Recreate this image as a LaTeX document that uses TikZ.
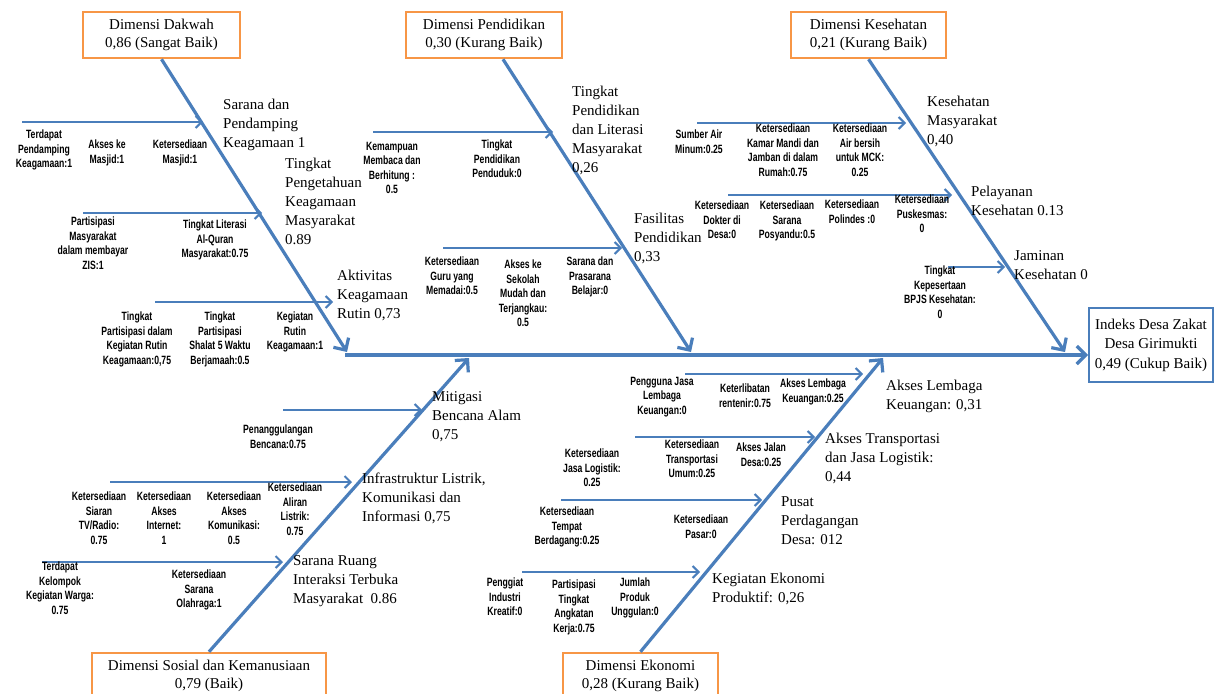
\documentclass[tikz,border=0pt]{standalone}
\usepackage{fontspec}
\setmainfont{Liberation Serif}
\newfontfamily\subfont{Liberation Sans}[FakeStretch=0.72]
\usetikzlibrary{arrows.meta, positioning, calc}
\definecolor{boneblue}{RGB}{74,126,187}
\definecolor{boxorange}{RGB}{247,150,70}

\begin{document}
\begin{tikzpicture}[x=1pt, y=-1pt,
  bone/.style={draw=boneblue, line width=3.2pt, -{Straight Barb[length=9pt, width=18pt]}},
  twig/.style={draw=boneblue, line width=2pt, -{Straight Barb[length=6pt, width=12pt]}},
  dimbox/.style={draw=boxorange, line width=2.5pt, fill=white, align=center, inner sep=0pt,
    minimum height=46pt, font=\fontsize{15}{18}\selectfont},
  lbl/.style={anchor=north west, inner sep=0pt, align=left, font=\fontsize{15}{19}\selectfont},
  sub/.style={anchor=north, inner sep=0pt, align=center, font=\subfont\bfseries\fontsize{12}{14.5}\selectfont}]
\useasboundingbox (0,0) rectangle (1217,693);
\clip (0,0) rectangle (1217,693);

% Dimension boxes
\node[dimbox, minimum width=157pt] (dakwah) at (161.5,35) {Dimensi Dakwah\\0,86 (Sangat Baik)};
\node[dimbox, minimum width=156pt] (pendidikan) at (484,35) {Dimensi Pendidikan\\0,30 (Kurang Baik)};
\node[dimbox, minimum width=155pt] (kesehatan) at (868.5,35) {Dimensi Kesehatan\\0,21 (Kurang Baik)};
\node[dimbox, minimum width=234pt] (sosial) at (209,676) {Dimensi Sosial dan Kemanusiaan\\0,79 (Baik)};
\node[dimbox, minimum width=155pt] (ekonomi) at (640.5,676) {Dimensi Ekonomi\\0,28 (Kurang Baik)};

% Result
\node[draw=boneblue, line width=2pt, align=center, inner sep=0pt, minimum width=124pt,
  minimum height=74pt, font=\fontsize{15}{19.5}\selectfont] (indeks) at (1151,345)
  {Indeks Desa Zakat\\Desa Girimukti\\0,49 (Cukup Baik)};

% Spine and bones
\coordinate (spine) at (345,355);
\coordinate (dkTip) at (347,352);
\coordinate (pdTip) at (691,352);
\coordinate (ksTip) at (1065,352);
\coordinate (ssTip) at (469,358);
\coordinate (ekTip) at (883,358);
\draw[bone] (spine) -- (indeks.west |- spine);
\draw[bone] (dakwah.south) -- (dkTip);
\draw[bone] ($(pendidikan.south)+(19,0)$) -- (pdTip);
\draw[bone] (kesehatan.south) -- (ksTip);
\draw[bone] (sosial.north) -- (ssTip);
\draw[bone] (ekonomi.north) -- (ekTip);

% Sub-bones
\foreach \n/\xa/\xb/\y in {a1/22/203/122, a2/83/262/213, a3/155/333/302,
    b1/373/553/132, b2/443/622/248,
    c1/697/906/123, c2/728/952/195, c3/948/1005/267,
    d1/283/422/410, d2/110/352/482, d3/42/283/562,
    e1/685/863/374, e2/635/815/437, e3/561/762/500, e4/522/700/572} {
  \coordinate (\n s) at (\xa,\y);
  \coordinate (\n e) at (\xb,\y);
  \draw[twig] (\n s) -- (\n e);
}

% Dakwah
\node[lbl] (saranaPend) at (223,99) {Sarana dan\\Pendamping\\Keagamaan 1};
\node[lbl] (pengetahuan) at (285,158) {Tingkat\\Pengetahuan\\Keagamaan\\Masyarakat\\0.89};
\node[lbl] (aktivitas) at (337,270) {Aktivitas\\Keagamaan\\Rutin 0,73};
\node[sub] (pendamping) at (44,130) {Terdapat\\Pendamping\\Keagamaan:1};
\node[sub] (masjidAkses) at (107,140) {Akses ke\\Masjid:1};
\node[sub] (masjid) at (180,140) {Ketersediaan\\Masjid:1};
\node[sub] (zis) at (93,217) {Partisipasi\\Masyarakat\\dalam membayar\\ZIS:1};
\node[sub] (literasiQuran) at (215,220) {Tingkat Literasi\\Al-Quran\\Masyarakat:0.75};
\node[sub] (rutinPart) at (137,312) {Tingkat\\Partisipasi dalam\\Kegiatan Rutin\\Keagamaan:0,75};
\node[sub] (shalat) at (220,312) {Tingkat\\Partisipasi\\Shalat 5 Waktu\\Berjamaah:0.5};
\node[sub] (rutin) at (295,312) {Kegiatan\\Rutin\\Keagamaan:1};

% Pendidikan
\node[lbl] (literasi) at (572,86) {Tingkat\\Pendidikan\\dan Literasi\\Masyarakat\\0,26};
\node[lbl] (fasilitas) at (634,213) {Fasilitas\\Pendidikan\\0,33};
\node[sub] (membaca) at (392,142) {Kemampuan\\Membaca dan\\Berhitung :\\0.5};
\node[sub] (penduduk) at (497,140) {Tingkat\\Pendidikan\\Penduduk:0};
\node[sub] (guru) at (452,257) {Ketersediaan\\Guru yang\\Memadai:0.5};
\node[sub] (sekolah) at (523,260) {Akses ke\\Sekolah\\Mudah dan\\Terjangkau:\\0.5};
\node[sub] (prasarana) at (590,257) {Sarana dan\\Prasarana\\Belajar:0};

% Kesehatan
\node[lbl] (kesMasy) at (927,96) {Kesehatan\\Masyarakat\\0,40};
\node[lbl] (pelayanan) at (971,186) {Pelayanan\\Kesehatan 0.13};
\node[lbl] (jaminan) at (1014,250) {Jaminan\\Kesehatan 0};
\node[sub] (airMinum) at (699,130) {Sumber Air\\Minum:0.25};
\node[sub] (jamban) at (783,124) {Ketersediaan\\Kamar Mandi dan\\Jamban di dalam\\Rumah:0.75};
\node[sub] (mck) at (860,124) {Ketersediaan\\Air bersih\\untuk MCK:\\0.25};
\node[sub] (dokter) at (722,201) {Ketersediaan\\Dokter di\\Desa:0};
\node[sub] (posyandu) at (787,201) {Ketersediaan\\Sarana\\Posyandu:0.5};
\node[sub] (polindes) at (852,200) {Ketersediaan\\Polindes :0};
\node[sub] (puskesmas) at (922,195) {Ketersediaan\\Puskesmas:\\0};
\node[sub] (bpjs) at (940,266) {Tingkat\\Kepesertaan\\BPJS Kesehatan:\\0};

% Sosial dan Kemanusiaan
\node[lbl] (mitigasi) at (432,391) {Mitigasi\\Bencana Alam\\0,75};
\node[lbl] (infra) at (362,473) {Infrastruktur Listrik,\\Komunikasi dan\\Informasi 0,75};
\node[lbl] (ruang) at (293,555) {Sarana Ruang\\Interaksi Terbuka\\Masyarakat\ \ 0.86};
\node[sub] (bencana) at (278,425) {Penanggulangan\\Bencana:0.75};
\node[sub] (siaran) at (99,492) {Ketersediaan\\Siaran\\TV/Radio:\\0.75};
\node[sub] (internet) at (164,492) {Ketersediaan\\Akses\\Internet:\\1};
\node[sub] (komunikasi) at (234,492) {Ketersediaan\\Akses\\Komunikasi:\\0.5};
\node[sub] (listrik) at (295,483) {Ketersediaan\\Aliran\\Listrik:\\0.75};
\node[sub] (kelompok) at (60,562) {Terdapat\\Kelompok\\Kegiatan Warga:\\0.75};
\node[sub] (olahraga) at (199,570) {Ketersediaan\\Sarana\\Olahraga:1};

% Ekonomi
\node[lbl] (lembaga) at (886,380) {Akses Lembaga\\Keuangan: 0,31};
\node[lbl] (transport) at (825,433) {Akses Transportasi\\dan Jasa Logistik:\\0,44};
\node[lbl] (pusat) at (781,496) {Pusat\\Perdagangan\\Desa: 012};
\node[lbl] (produktif) at (712,573) {Kegiatan Ekonomi\\Produktif: 0,26};
\node[sub] (pengguna) at (662,377) {Pengguna Jasa\\Lembaga\\Keuangan:0};
\node[sub] (rentenir) at (745,384) {Keterlibatan\\rentenir:0.75};
\node[sub] (aksesLembaga) at (813,379) {Akses Lembaga\\Keuangan:0.25};
\node[sub] (logistik) at (592,449) {Ketersediaan\\Jasa Logistik:\\0.25};
\node[sub] (umum) at (692,440) {Ketersediaan\\Transportasi\\Umum:0.25};
\node[sub] (jalan) at (761,443) {Akses Jalan\\Desa:0.25};
\node[sub] (tempat) at (567,507) {Ketersediaan\\Tempat\\Berdagang:0.25};
\node[sub] (pasar) at (701,515) {Ketersediaan\\Pasar:0};
\node[sub] (kreatif) at (505,578) {Penggiat\\Industri\\Kreatif:0};
\node[sub] (angkatan) at (574,580) {Partisipasi\\Tingkat\\Angkatan\\Kerja:0.75};
\node[sub] (unggulan) at (635,578) {Jumlah\\Produk\\Unggulan:0};
\end{tikzpicture}
\end{document}
